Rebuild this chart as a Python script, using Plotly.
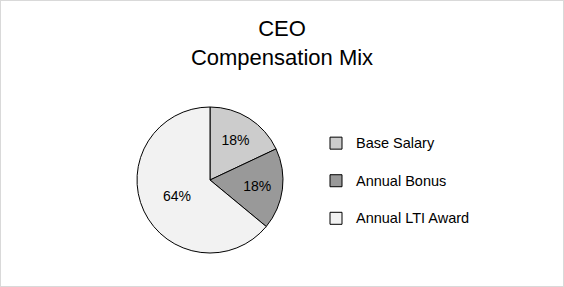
import plotly.graph_objects as go

categories = ["Base Salary", "Annual Bonus", "Annual LTI Award"]
values = [18, 18, 64]
colors = ["#cccccc", "#999999", "#f2f2f2"]
title_lines = ["CEO", "Compensation Mix"]

W, H = 564, 287

# legend labels: second blank line used only to space the entries
legend_labels = [f"<span style='font-size:14.5px'>{c}</span><br> " for c in categories]

fig = go.Figure(
    go.Pie(
        labels=legend_labels,
        values=values,
        sort=False,
        direction="clockwise",
        rotation=0,
        marker=dict(colors=colors, line=dict(color="#000000", width=1)),
        texttemplate="%{percent:.0%}",
        textposition="inside",
        insidetextorientation="horizontal",
        textfont=dict(family="Liberation Sans, Arial, sans-serif", size=14, color="#000000"),
        hoverinfo="label+percent",
        domain=dict(x=[137 / W, 283 / W], y=[1 - 253 / H, 1 - 107 / H]),
    )
)

fig.update_layout(
    width=W,
    height=H,
    margin=dict(l=0, r=0, t=0, b=0),
    paper_bgcolor="#ffffff",
    plot_bgcolor="#ffffff",
    font=dict(family="Liberation Sans, Arial, sans-serif", color="#000000"),
    title=dict(
        text="<br>".join(title_lines),
        x=0.5,
        xanchor="center",
        y=1 - 36 / H,
        yanchor="top",
        yref="paper",
        font=dict(size=22, color="#000000"),
    ),
    legend=dict(
        x=316 / W,
        xanchor="left",
        y=1 - 128 / H,
        yanchor="top",
        valign="top",
        font=dict(size=13.3, color="#000000"),
        bgcolor="rgba(0,0,0,0)",
        itemclick=False,
    ),
    shapes=[
        dict(
            type="rect",
            xref="paper",
            yref="paper",
            x0=0,
            x1=1,
            y0=0,
            y1=1,
            line=dict(color="#d9d9d9", width=2),
            fillcolor="rgba(0,0,0,0)",
            layer="above",
        )
    ],
)

fig.write_html("out.html")
